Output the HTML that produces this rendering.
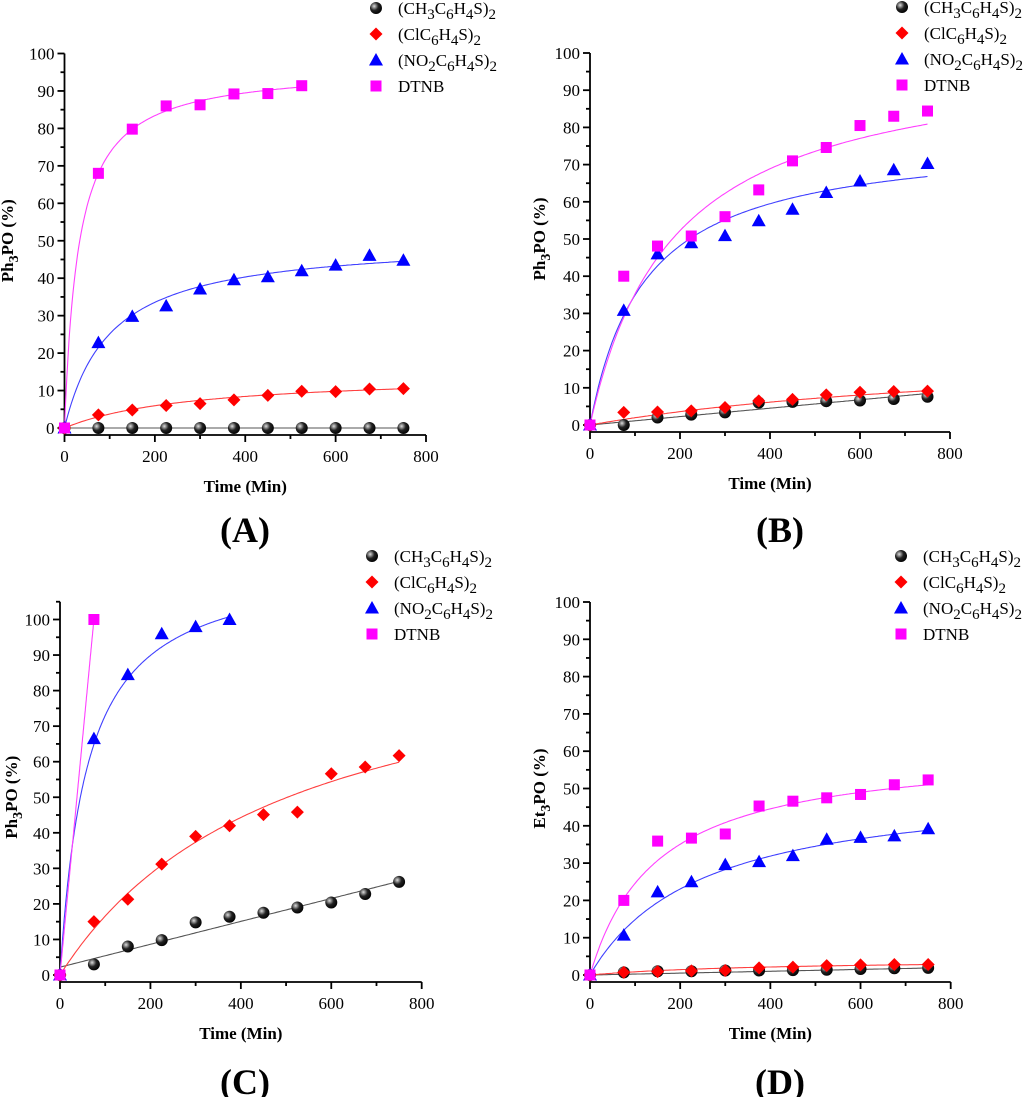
<!DOCTYPE html>
<html><head><meta charset="utf-8"><style>
html,body{margin:0;padding:0;background:#fff;}
svg{display:block;font-family:"Liberation Serif",serif;}
</style></head><body>
<svg id="fig" width="1024" height="1097" viewBox="0 0 1024 1097">
<defs><radialGradient id="ball" cx="0.35" cy="0.35" r="0.7"><stop offset="0" stop-color="#ddd"/><stop offset="0.5" stop-color="#222"/><stop offset="1" stop-color="#000"/></radialGradient></defs>
</svg>
<script>
// ---- data ----
const timesFull = [0,75,150,225,300,375,450,525,600,675,750];
const xTicks = [0,200,400,600,800];
const yTicks = [0,10,20,30,40,50,60,70,80,90,100];
const seriesNames = ["(CH3C6H4S)2","(ClC6H4S)2","(NO2C6H4S)2","DTNB"];
// Panel A
const aBlack = [0,0,0,0,0,0,0,0,0,0,0];
const aRed = [0,3.5,4.8,6,6.5,7.5,8.7,9.8,9.7,10.4,10.5];
const aBlue = [0,22.8,29.8,32.6,37.1,39.6,40.4,42,43.5,46.1,44.8];
const aPink = [0,68,79.8,86,86.3,89.2,89.3,91.4];
// Panel B
const bBlack = [0,0,2,2.8,3.4,6,6.2,6.4,6.6,7,7.6];
const bRed = [0,3.4,3.5,3.8,4.7,6.5,6.9,8.1,8.8,9,9.1];
const bBlue = [0,30.8,46,49,50.9,54.9,58,62.5,65.6,68.6,70.3];
const bPink = [0,40,48.1,50.8,56,63.2,71,74.6,80.5,83,84.4];
// Panel C
const cBlack = [0,3,8,9.8,14.8,16.4,17.5,19,20.4,22.8,26.2];
const cRed = [0,15,21.3,31.2,39,42,45.1,45.8,56.6,58.5,61.7];
const cBlue = [0,66.5,84.5,96,98,100];
const cPink = [0,100];
// Panel D
const dBlack = [0,0.7,1,1,1.2,1.2,1.3,1.4,1.6,1.8,1.9];
const dRed = [0,0.7,0.9,1.1,1.2,1.9,2.1,2.5,2.7,2.8,2.8];
const dBlue = [0,10.7,22.3,25,29.6,30.4,32,36.4,36.9,37.3,39.2];
const dPink = [0,20,35.9,36.7,37.8,45.3,46.6,47.5,48.4,51,52.3];
// fit curves: [type, p1, p2, xmax]; hyper: p1*x/(p2+x); linear: p1 + p2*x
const aFits = [["linear",0,0,750],["hyper",14.5,288,750],["hyper",50.5,101,750],["hyper",96.5,31.4,525]];
const bFits = [["linear",0,0.0113,750],["hyper",21.5,1000,750],["hyper",77.7,122.5,750],["hyper",101,186.6,750]];
const cFits = [["linear",2.2,0.0322,750],["hyper",100,503,750],["hyper",117,60.3,375],["linear",0,1.3333,75]];
const dFits = [["linear",0,0.0025,750],["hyper",4.3,400,750],["hyper",51.6,247.5,750],["hyper",61.1,148.6,750]];

const NS="http://www.w3.org/2000/svg";
const svg=document.getElementById('fig');
const colors=["#000","#ff0000","#0000ff","#ff00ff"];
const lineColors=["#555","#ff4040","#4040ff","#ff40ff"];
function el(tag,attrs,parent){const e=document.createElementNS(NS,tag);for(const k in attrs)e.setAttribute(k,attrs[k]);(parent||svg).appendChild(e);return e;}

function legendText(g,x,y,name){
  const t=el('text',{x:x,y:y,'font-size':17,fill:'#000'},g);
  const parts=name.match(/[A-Za-z()]+|\d+/g);
  let sub=false;
  parts.forEach(p=>{
    const ts=el('tspan',{},t);
    if(/^\d+$/.test(p)){ts.setAttribute('dy',sub?0:5);ts.setAttribute('font-size',15);sub=true;}
    else{ if(sub){ts.setAttribute('dy',-5);} sub=false;}
    ts.textContent=p;
  });
  return t;
}
function marker(g,k,cx,cy){
  let m;
  if(k===0)m=el('circle',{cx:cx,cy:cy,r:6,fill:'url(#ball)'},g);
  else if(k===1)m=el('polygon',{points:`${cx},${cy-6.5} ${cx+6.5},${cy} ${cx},${cy+6.5} ${cx-6.5},${cy}`,fill:colors[1]},g);
  else if(k===2)m=el('polygon',{points:`${cx},${cy-7} ${cx+7},${cy+5.5} ${cx-7},${cy+5.5}`,fill:colors[2]},g);
  else m=el('rect',{x:cx-5.5,y:cy-5.5,width:11,height:11,fill:colors[3]},g);
  return m;
}

function panel(cfg){
  const g=el('g',{});
  
  
  const X=v=>cfg.x0+(cfg.x1-cfg.x0)*v/800;
  const Y=v=>cfg.y0+(cfg.y100-cfg.y0)*v/100;
  const axB=cfg.y0+7;
  const ax=el('g',{stroke:'#000','stroke-width':1.8,fill:'none'},g);
  
  
  el('line',{x1:X(0),y1:Y(cfg.ymax),x2:X(0),y2:axB},ax);
  el('line',{x1:X(0),y1:axB,x2:X(800),y2:axB},ax);
  for(let v=0;v<=cfg.ymax;v+=5){const L=v%10===0?7:4;el('line',{x1:X(0)-L,y1:Y(v),x2:X(0),y2:Y(v)},ax);}
  for(let v=0;v<=800;v+=100){const L=v%200===0?7:4;el('line',{x1:X(v),y1:axB,x2:X(v),y2:axB+L},ax);}
  yTicks.forEach(v=>{const t=el('text',{x:X(0)-10,y:Y(v)+6,'text-anchor':'end','font-size':17},g);t.textContent=v;
    });
  xTicks.forEach(v=>{const t=el('text',{x:X(v),y:axB+27,'text-anchor':'middle','font-size':17},g);t.textContent=v;
    });
  const xt=el('text',{x:(X(0)+X(800))/2,y:axB+57,'text-anchor':'middle','font-size':17,'font-weight':'bold'},g);
  xt.textContent='Time (Min)';
  
  const yc=(Y(0)+Y(100))/2;
  const yt=el('text',{x:0,y:0,'text-anchor':'middle','font-size':17,'font-weight':'bold',transform:`translate(${cfg.ytx},${yc}) rotate(-90)`},g);
  const t1=el('tspan',{},yt);t1.textContent=cfg.ylab;
  const t2=el('tspan',{dy:5,'font-size':14},yt);t2.textContent='3';
  const t3=el('tspan',{dy:-5},yt);t3.textContent='PO (%)';
  
  cfg.fits.forEach((f,k)=>{
    let d='';
    for(let i=0;i<=200;i++){const x=f[3]*i/200;const y=f[0]==='hyper'?f[1]*x/(f[2]+x):f[1]+f[2]*x;d+=(i?'L':'M')+X(x).toFixed(1)+','+Y(y).toFixed(1);}
    const p=el('path',{d:d,stroke:lineColors[k],'stroke-width':1.1,fill:'none'},g);
    
    
  });
  cfg.series.forEach((arr,k)=>{
    arr.forEach((v,i)=>{
      const m=marker(g,k,X(timesFull[i]),Y(v));
      
      
    });
  });
  seriesNames.forEach((n,k)=>{
    const ly=cfg.legY+k*26;
    const lg=el('g',{},g);
    
    
    marker(lg,k,cfg.legX,ly);
    legendText(lg,cfg.legX+22,ly+6,n);
  });
  const lt=el('text',{x:cfg.letX,y:cfg.letY,'text-anchor':'middle','font-size':36,'font-weight':'bold'},g);
  lt.textContent='('+cfg.id+')';
  
}

panel({id:'A',x0:64.5,x1:426,y0:428,y100:53.5,ymax:100,ytx:13,ylab:'Ph',fits:aFits,series:[aBlack,aRed,aBlue,aPink],legX:376,legY:8,letX:245,letY:542});
panel({id:'B',x0:590,x1:950,y0:425,y100:53,ymax:100,ytx:545,ylab:'Ph',fits:bFits,series:[bBlack,bRed,bBlue,bPink],legX:902,legY:7,letX:780,letY:542});
panel({id:'C',x0:60,x1:421.7,y0:975,y100:619.5,ymax:105,ytx:17,ylab:'Ph',fits:cFits,series:[cBlack,cRed,cBlue,cPink],legX:372,legY:556,letX:245,letY:1094});
panel({id:'D',x0:590,x1:950.7,y0:975,y100:602,ymax:100,ytx:545,ylab:'Et',fits:dFits,series:[dBlack,dRed,dBlue,dPink],legX:901,legY:556,letX:780,letY:1094});
</script>
</body></html>
